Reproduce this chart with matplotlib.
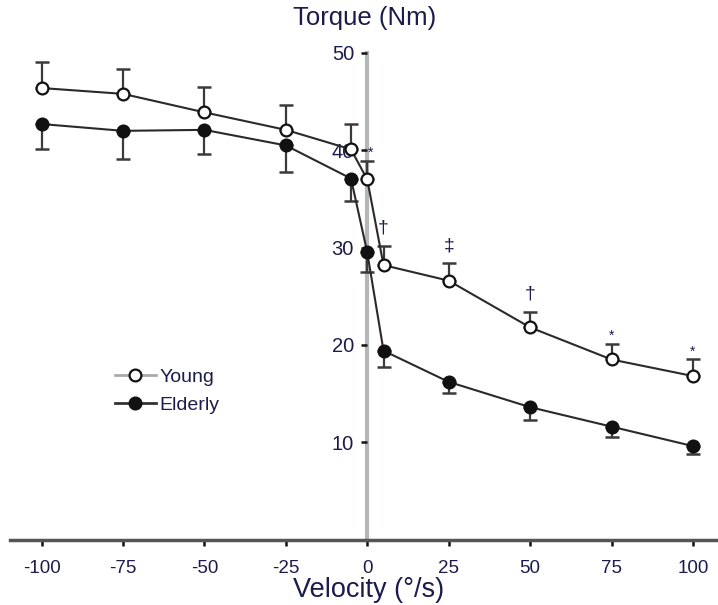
import matplotlib
matplotlib.use("Agg")
import matplotlib.pyplot as plt
from matplotlib.lines import Line2D

plt.rcParams['font.family'] = ['Liberation Sans', 'DejaVu Sans']

# ---- data ----
velocity = [-100, -75, -50, -25, -5, 0, 5, 25, 50, 75, 100]
young = [46.4, 45.8, 43.9, 42.1, 40.1, 37.0, 28.2, 26.6, 21.8, 18.5, 16.8]
young_err = [2.7, 2.6, 2.6, 2.6, 2.6, 1.9, 2.0, 1.8, 1.6, 1.6, 1.7]
elderly = [42.7, 42.0, 42.1, 40.5, 37.1, 29.5, 19.4, 16.2, 13.6, 11.6, 9.6]
elderly_err = [2.6, 2.9, 2.5, 2.7, 2.3, 2.0, 1.7, 1.1, 1.3, 1.1, 0.8]
sig_x = [0, 5, 25, 50, 75, 100]
sig_labels = ['*', '†', '‡', '†', '*', '*']
x_ticks = [-100, -75, -50, -25, 0, 25, 50, 75, 100]
y_ticks = [10, 20, 30, 40, 50]

TXT = '#1c1c4c'

fig = plt.figure(figsize=(7.18, 6.05), dpi=100)
ax = fig.add_axes([10/718, 1-539.5/605, 708/718, (539.5-53)/605])
ax.set_xlim(-109.7, 107.7)
ax.set_ylim(0, 50)

# error bars (one-sided)
zeros = [0]*len(velocity)
ax.errorbar(velocity, young, yerr=[zeros, young_err], fmt='none', ecolor='#3a3a3a',
            elinewidth=1.6, capsize=5, capthick=1.8, zorder=2)
ax.errorbar(velocity, elderly, yerr=[elderly_err, zeros], fmt='none', ecolor='#3a3a3a',
            elinewidth=1.6, capsize=5, capthick=1.8, zorder=2)

ax.plot(velocity, young, color='#2a2a2a', lw=1.5, marker='o', ms=8.5,
        mfc='white', mec='#111111', mew=1.6, zorder=4, clip_on=False)
ax.plot(velocity, elderly, color='#2a2a2a', lw=1.5, marker='o', ms=8.5,
        mfc='#111111', mec='#111111', mew=1.6, zorder=4, clip_on=False)

# significance symbols
ymap = dict(zip(velocity, [y + e for y, e in zip(young, young_err)]))
for sx, lab in zip(sig_x, sig_labels):
    top = ymap[sx]
    if lab == '*':
        ax.annotate(lab, (sx, top), xytext=(3 if sx == 0 else 0, 4),
                    textcoords='offset pixels', ha='center', va='baseline',
                    fontsize=10, color=TXT, zorder=5)
    else:
        ax.annotate(lab, (sx, top), xytext=(0, 13), textcoords='offset pixels',
                    ha='center', va='baseline', fontsize=14, color=TXT, zorder=5)

# spines
for s in ['top', 'right']:
    ax.spines[s].set_visible(False)
ax.spines['left'].set_position(('data', 0))
ax.spines['left'].set_color('#b4b8b4')
ax.spines['left'].set_linewidth(3)
ax.spines['left'].set_bounds(0, 50)
ax.spines['left'].set_zorder(1)
ax.spines['bottom'].set_color('#555555')
ax.spines['bottom'].set_linewidth(2.5)

ax.set_xticks(x_ticks)
ax.set_xticklabels([str(v) for v in x_ticks])
ax.set_yticks(y_ticks)
ax.set_yticklabels([str(v) for v in y_ticks])
ax.tick_params(axis='x', length=4.5, width=1.8, color='#111111', pad=10,
               labelsize=13.5, labelcolor=TXT)
ax.tick_params(axis='y', length=4.5, width=1.8, color='#111111', pad=5,
               labelsize=14.5, labelcolor=TXT)

fig.text(364.5/718, 1-18/605, 'Torque (Nm)', ha='center', va='center',
         fontsize=18.5, color=TXT)
fig.text(369/718, 1-590/605, 'Velocity (°/s)', ha='center', va='center',
         fontsize=19.5, color=TXT)

handles = [
    Line2D([], [], color='#aaaaaa', lw=2, marker='o', ms=8.5, mfc='white', mec='#111111', mew=1.6),
    Line2D([], [], color='#333333', lw=2, marker='o', ms=8.5, mfc='#111111', mec='#111111', mew=1.6),
]
leg = ax.legend(handles, ['Young', 'Elderly'], loc='upper left',
                bbox_to_anchor=(115/718, 1-368/605), bbox_transform=fig.transFigure,
                frameon=False, fontsize=14, handlelength=2.1, handletextpad=0.2,
                labelspacing=0.55, borderpad=0, borderaxespad=0)
for t in leg.get_texts():
    t.set_color(TXT)

fig.savefig('out.png', dpi=100)
